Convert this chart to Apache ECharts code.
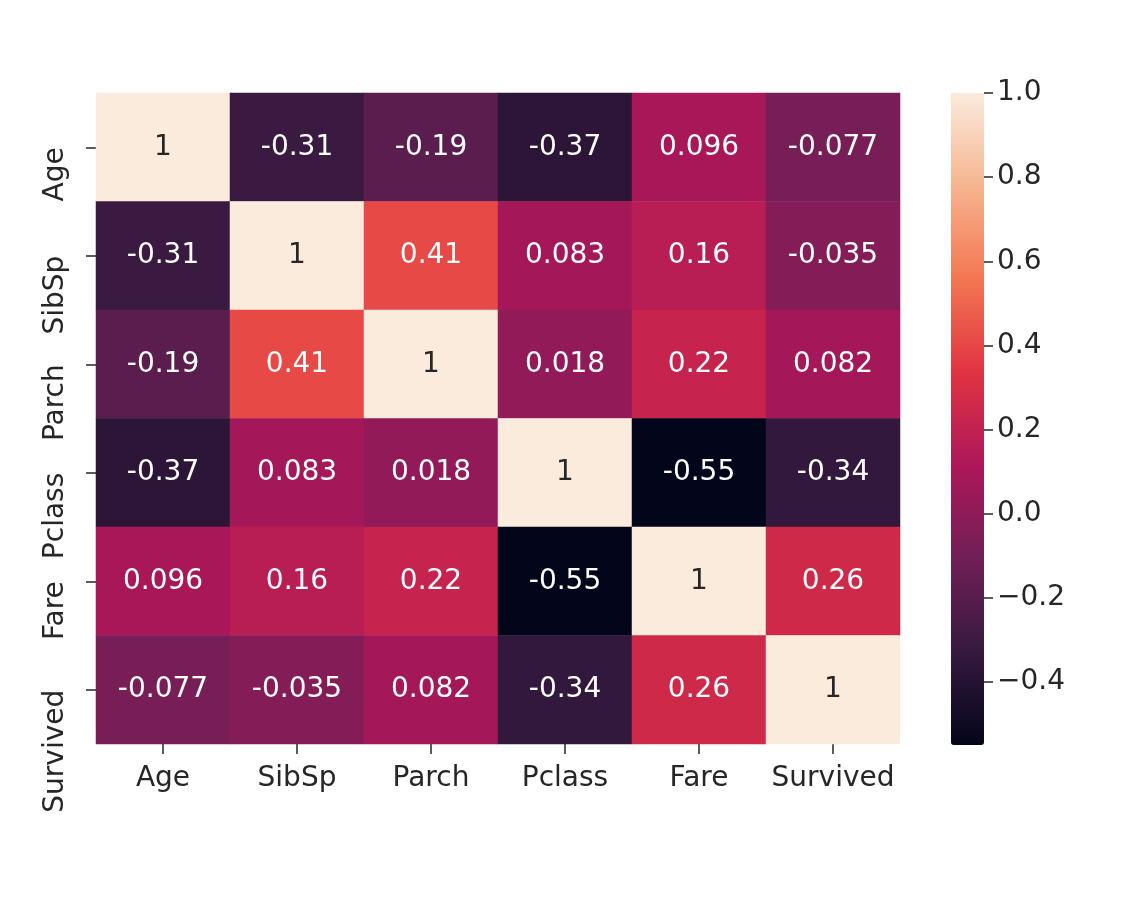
<!DOCTYPE html>
<html>
<head>
<meta charset="utf-8">
<script src="https://cdn.jsdelivr.net/npm/echarts@6/dist/echarts.min.js"></script>
<style>
html,body{margin:0;padding:0;background:#ffffff;}
#chart{width:1144px;height:906px;}
</style>
</head>
<body>
<div id="chart"></div>
<script>
const categories = ['Age', 'SibSp', 'Parch', 'Pclass', 'Fare', 'Survived'];
const rowAge      = [1, -0.31, -0.19, -0.37, 0.096, -0.077];
const rowSibSp    = [-0.31, 1, 0.41, 0.083, 0.16, -0.035];
const rowParch    = [-0.19, 0.41, 1, 0.018, 0.22, 0.082];
const rowPclass   = [-0.37, 0.083, 0.018, 1, -0.55, -0.34];
const rowFare     = [0.096, 0.16, 0.22, -0.55, 1, 0.26];
const rowSurvived = [-0.077, -0.035, 0.082, -0.34, 0.26, 1];
const colorbarTicks = [-0.4, -0.2, 0.0, 0.2, 0.4, 0.6, 0.8, 1.0];
const rocket = ['#03051A', '#35193E', '#701F57', '#AD1759', '#E13342', '#F37651', '#F6B48F', '#FAEBDD'];
const vMin = -0.55, vMax = 1.0;

const rows = [rowAge, rowSibSp, rowParch, rowPclass, rowFare, rowSurvived];
const data = [];
rows.forEach((row, y) => {
  row.forEach((v, x) => {
    data.push({
      value: [x, y, v],
      label: { color: v > 0.6 ? '#262626' : '#ffffff' }
    });
  });
});

const FONT = 'DejaVu Sans';
const FS = 28;
const chart = echarts.init(document.getElementById('chart'));
chart.setOption({
  backgroundColor: '#ffffff',
  animation: false,
  grid: [
    { left: 96, right: 244, top: 93, bottom: 162 },
    { left: 951, width: 33, top: 93, height: 652 }
  ],
  xAxis: [
    {
      type: 'category', data: categories, gridIndex: 0,
      axisLine: { show: false },
      axisTick: { show: true, alignWithLabel: true, interval: 0, length: 10, lineStyle: { color: '#262626', width: 1.5 } },
      axisLabel: { interval: 0, fontFamily: FONT, fontSize: FS, color: '#262626', margin: 21 },
      splitLine: { show: false }
    },
    { type: 'category', data: ['c'], gridIndex: 1, show: false }
  ],
  yAxis: [
    {
      type: 'category', data: categories, gridIndex: 0, inverse: true,
      axisLine: { show: false },
      axisTick: { show: true, alignWithLabel: true, interval: 0, length: 10, lineStyle: { color: '#262626', width: 1.5 } },
      axisLabel: {
        interval: 0, fontFamily: FONT, fontSize: FS, color: '#262626', rotate: 90,
        align: 'right', verticalAlign: 'bottom', margin: 26
      },
      splitLine: { show: false }
    },
    {
      type: 'value', gridIndex: 1, position: 'right', min: vMin, max: vMax,
      axisLine: { show: false },
      splitLine: { show: false },
      axisTick: { show: true, length: 9, customValues: colorbarTicks, lineStyle: { color: '#262626', width: 1.5 } },
      axisLabel: {
        fontFamily: FONT, fontSize: FS, color: '#262626', margin: 13,
        customValues: colorbarTicks,
        formatter: v => (v < 0 ? '\u2212' : '') + Math.abs(v).toFixed(1)
      }
    }
  ],
  visualMap: {
    type: 'continuous', min: vMin, max: vMax, seriesIndex: 0,
    calculable: false, show: true, orient: 'vertical',
    left: 951, top: 93, itemWidth: 33, itemHeight: 652,
    padding: 0, text: ['', ''], showLabel: false, textGap: 0,
    inRange: { color: rocket }
  },
  series: [
    {
      type: 'heatmap', xAxisIndex: 0, yAxisIndex: 0, data: data,
      label: {
        show: true, fontFamily: FONT, fontSize: FS,
        formatter: p => String(parseFloat(p.value[2].toPrecision(2)))
      },
      itemStyle: { borderWidth: 0 },
      emphasis: { disabled: true }
    }
  ]
});
</script>
</body>
</html>
